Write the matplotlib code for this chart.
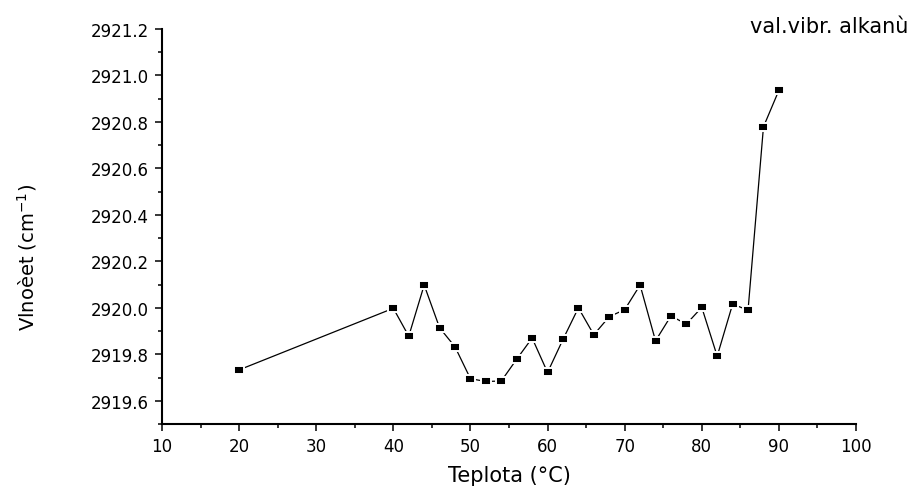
import matplotlib
matplotlib.use("Agg")
import matplotlib.pyplot as plt
from matplotlib.path import Path
from matplotlib.ticker import MultipleLocator, FormatStrFormatter

temperature = [20, 40, 42, 44, 46, 48, 50, 52, 54, 56, 58, 60, 62, 64, 66, 68,
               70, 72, 74, 76, 78, 80, 82, 84, 86, 88, 90]
wavenumber = [2919.733, 2919.998, 2919.878, 2920.098, 2919.914, 2919.832,
              2919.695, 2919.683, 2919.685, 2919.779, 2919.870, 2919.722,
              2919.864, 2920.000, 2919.884, 2919.962, 2919.992, 2920.098,
              2919.858, 2919.965, 2919.930, 2920.002, 2919.792, 2920.016,
              2919.990, 2920.779, 2920.936]

x_label = "Teplota (°C)"
y_label = r"Vlnoèet (cm$^{-1}$)"
series_name = "val.vibr. alkanù"

plt.rcParams['font.family'] = ['DejaVu Sans']
plt.rcParams['mathtext.default'] = 'regular'

fig = plt.figure(figsize=(9.12, 4.89), dpi=100)
ax = fig.add_axes([162/912, 1-425/489, 694/912, 395/489])

rect = Path([(-4, -3), (4, -3), (4, 3), (-4, 3), (-4, -3)],
            [Path.MOVETO, Path.LINETO, Path.LINETO, Path.LINETO, Path.CLOSEPOLY])
ax.plot(temperature, wavenumber, color='black', lw=0.9,
        marker=rect, markersize=7.6, markerfacecolor='black',
        markeredgecolor='white', markeredgewidth=1.4)

ax.set_xlim(10, 100)
ax.set_ylim(2919.5, 2921.2)
ax.xaxis.set_major_locator(MultipleLocator(10))
ax.xaxis.set_minor_locator(MultipleLocator(5))
ax.yaxis.set_minor_locator(MultipleLocator(0.1))
ax.set_yticks([2919.6 + 0.2*i for i in range(9)])
ax.yaxis.set_major_formatter(FormatStrFormatter('%.1f'))

for s in ['top', 'right']:
    ax.spines[s].set_visible(False)
for s in ['left', 'bottom']:
    ax.spines[s].set_linewidth(1.5)

ax.tick_params(which='major', direction='out', length=5, width=1.1,
               labelsize=12, pad=4.5)
ax.tick_params(which='minor', direction='out', length=3, width=1.1)

ax.set_xlabel(x_label, fontsize=15, labelpad=7)
ax.set_ylabel(y_label, fontsize=14, va='center')
ax.yaxis.set_label_coords(-0.1945, 0.425)

fig.text(908/912, 1-33/489, series_name, ha='right', va='baseline', fontsize=15)

fig.savefig("out.png", dpi=100)
